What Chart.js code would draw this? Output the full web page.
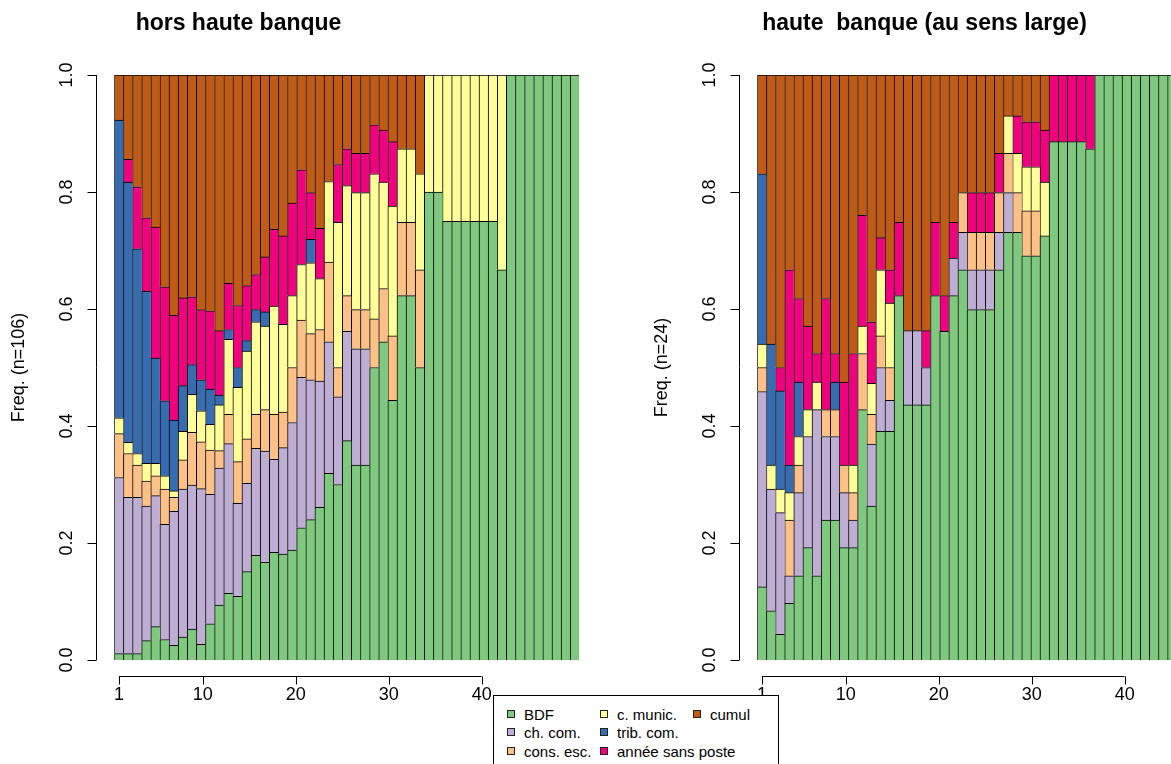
<!DOCTYPE html>
<html>
<head>
<meta charset="utf-8">
<script src="https://cdn.jsdelivr.net/npm/chart.js@4.4.1/dist/chart.umd.min.js"></script>
<style>
  html, body { margin: 0; padding: 0; width: 1171px; height: 764px; overflow: hidden; background: #fff; }
  body { position: relative; font-family: "Liberation Sans", Arial, sans-serif; }
  #chartLeft { position: absolute; left: 0; top: 0; }
  #chartRight { position: absolute; left: 640px; top: 0; }
  #legend { position: absolute; left: 493px; top: 695px; width: 284px; height: 90px; border: 1px solid #000; background: #fff; }
  #legend .item { position: absolute; font-size: 15px; line-height: 16px; color: #000; white-space: nowrap; }
  #legend .sw { display: inline-block; width: 6px; height: 6px; border: 1px solid #222; margin-right: 9px; vertical-align: 2px; }
</style>
</head>
<body>
<canvas id="chartLeft" width="600" height="764"></canvas>
<canvas id="chartRight" width="620" height="764"></canvas>
<div id="legend"></div>
<script>
// années (axe x)
const years = ['1','2','3','4','5','6','7','8','9','10','11','12','13','14','15','16','17','18','19','20',
  '21','22','23','24','25','26','27','28','29','30','31','32','33','34','35','36','37','38','39','40',
  '41','42','43','44','45','46','47','48','49','50','51'];
const xTicks = [1, 10, 20, 30, 40];
const yTicks = [0, 0.2, 0.4, 0.6, 0.8, 1.0];

const seriesNames = ['BDF', 'ch. com.', 'cons. esc.', 'c. munic.', 'trib. com.', 'année sans poste', 'cumul'];
const colors = ['#7FC97F', '#BEAED4', '#FDC086', '#FFFF99', '#386CB0', '#F0027F', '#BF5B17'];

// hors haute banque (n=106)
const bdfL = [.011,.011,.011,.033,.057,.035,.025,.039,.053,.027,.062,.094,.114,.109,.151,.179,.167,.184,.181,.188,
  .226,.240,.261,.319,.300,.375,.333,.333,.500,.544,.444,.623,.623,.500,.800,.800,.750,.750,.750,.750,
  .750,.750,.667,1,1,1,1,1,1,1,1];
const chComL = [.301,.267,.267,.230,.224,.197,.229,.253,.246,.266,.221,.234,.256,.159,.151,.183,.190,.159,.182,.218,
  .257,.239,.216,.225,.150,.187,.199,.199,0,0,0,0,0,0,0,0,0,0,0,0,
  0,0,0,0,0,0,0,0,0,0,0];
const consEscL = [.075,.075,.055,.043,.034,.060,.024,.050,.090,.080,.076,.030,.050,.071,.076,.058,.071,.077,.061,.094,
  .098,.079,.088,.136,.050,.061,.067,.067,.083,.091,.110,.125,.125,.167,0,0,0,0,0,0,
  0,0,0,0,0,0,0,0,0,0,0];
const cMunicL = [.027,.019,.020,.030,.021,.023,.011,.049,.065,.053,.044,.078,.128,.127,.150,.158,.143,.185,.150,.123,
  .095,.121,.087,.138,.248,.188,.200,.200,.248,.182,.222,.126,.126,.164,.200,.200,.250,.250,.250,.250,
  .250,.250,.333,0,0,0,0,0,0,0,0];
const tribComL = [.509,.445,.350,.294,.180,.128,.121,.078,.051,.053,.060,.017,.017,.034,.018,.021,.024,0,0,0,
  0,.040,0,0,0,0,0,0,0,0,0,0,0,0,0,0,0,0,0,0,
  0,0,0,0,0,0,0,0,0,0,0];
const sansPosteL = [0,.039,.106,.126,.224,.195,.179,.150,.116,.120,.134,.110,.079,.106,.094,.060,.094,.131,.151,.158,
  .162,.080,.086,0,.099,.063,.067,.067,.084,.089,.110,0,0,0,0,0,0,0,0,0,
  0,0,0,0,0,0,0,0,0,0,0];
const cumulL = [.077,.144,.191,.244,.260,.362,.411,.381,.379,.401,.403,.437,.356,.394,.360,.341,.311,.264,.275,.219,
  .162,.201,.262,.182,.153,.126,.134,.134,.085,.094,.114,.126,.126,.169,0,0,0,0,0,0,
  0,0,0,0,0,0,0,0,0,0,0];

// haute banque au sens large (n=24)
const bdfR = [.125,.084,.044,.097,.144,.192,.144,.239,.239,.192,.192,.428,.263,.391,.391,.623,.436,.436,.436,.623,
  .562,.623,.667,.599,.599,.599,.667,.731,.731,.691,.691,.725,.886,.886,.886,.886,.874,1,1,1,
  1,1,1,1,1,1,1,1,1,1,1];
const chComR = [.334,.208,.208,.047,.142,.190,.284,.143,.143,.094,.047,0,.106,.109,.053,0,.127,.127,.064,0,
  0,.064,.064,.068,.068,.068,.064,.068,0,0,0,0,0,0,0,0,0,0,0,0,
  0,0,0,0,0,0,0,0,0,0,0];
const consEscR = [.041,0,0,.095,.047,0,0,.046,.046,.047,.047,.096,.051,.054,.056,0,0,0,0,0,
  0,0,.068,.064,.064,.064,.068,.067,.068,.077,.077,0,0,0,0,0,0,0,0,0,
  0,0,0,0,0,0,0,0,0,0,0];
const cMunicR = [.040,.041,.040,.047,.049,.046,.047,0,0,0,.047,.047,.053,.113,.110,0,0,0,0,0,
  0,0,0,0,0,0,0,.064,.067,.075,.075,.092,0,0,0,0,0,0,0,0,
  0,0,0,0,0,0,0,0,0,0,0];
const tribComR = [.291,.207,.168,.047,.093,0,0,0,.047,0,0,0,0,0,0,0,0,0,0,0,
  0,0,0,0,0,0,0,0,0,0,0,0,0,0,0,0,0,0,0,0,
  0,0,0,0,0,0,0,0,0,0,0];
const sansPosteR = [0,0,.040,.334,.143,.143,.049,.190,.049,.142,.191,.189,.105,.055,.057,.125,0,0,.063,.125,
  .061,.061,0,.068,.068,.068,.067,0,.064,.077,.077,.089,.114,.114,.114,.114,.126,0,0,0,
  0,0,0,0,0,0,0,0,0,0,0];
const cumulR = [.169,.460,.500,.333,.382,.429,.476,.382,.476,.525,.476,.240,.422,.278,.333,.252,.437,.437,.437,.252,
  .377,.252,.201,.201,.201,.201,.134,.070,.070,.080,.080,.094,0,0,0,0,0,0,0,0,
  0,0,0,0,0,0,0,0,0,0,0];

const FONT = '"Liberation Sans", Arial, sans-serif';

// axes a la R, dessines a partir des echelles de Chart.js
const rAxes = {
  id: 'rAxes',
  afterDraw(chart, args, o) {
    const { ctx, chartArea: a, scales: { x, y } } = chart;
    const ax = Math.round(a.left - 18.6) + 0.5;
    const ay = Math.round(a.bottom + 16) + 0.5;
    ctx.save();
    ctx.strokeStyle = '#000';
    ctx.fillStyle = '#000';
    ctx.lineWidth = 1;

    // axe y
    ctx.beginPath();
    ctx.moveTo(ax, y.getPixelForValue(yTicks[0]));
    ctx.lineTo(ax, y.getPixelForValue(yTicks[yTicks.length - 1]));
    yTicks.forEach(v => {
      const py = Math.round(y.getPixelForValue(v)) + 0.5;
      ctx.moveTo(ax, py);
      ctx.lineTo(ax - 9, py);
    });
    ctx.stroke();
    ctx.font = '18px ' + FONT;
    ctx.textAlign = 'center';
    ctx.textBaseline = 'middle';
    yTicks.forEach(v => {
      ctx.save();
      ctx.translate(ax - 29, y.getPixelForValue(v));
      ctx.rotate(-Math.PI / 2);
      ctx.fillText(v.toFixed(1), 0, 0);
      ctx.restore();
    });
    ctx.save();
    ctx.translate(ax - 77.5, (a.top + a.bottom) / 2);
    ctx.rotate(-Math.PI / 2);
    ctx.fillText(o.yTitle, 0, 0);
    ctx.restore();

    // axe x (graduations placees sur une grille de 50 annees)
    const xs = xTicks.map(v => x.getPixelForDecimal((v - 0.5) / o.xUnits));
    ctx.beginPath();
    ctx.moveTo(xs[0], ay);
    ctx.lineTo(xs[xs.length - 1], ay);
    xs.forEach(px => {
      ctx.moveTo(Math.round(px) + 0.5, ay);
      ctx.lineTo(Math.round(px) + 0.5, ay + 8);
    });
    ctx.stroke();
    ctx.textBaseline = 'top';
    xTicks.forEach((v, i) => ctx.fillText(String(v), xs[i], ay + 10));

    // titre
    ctx.font = 'bold 23px ' + FONT;
    ctx.textBaseline = 'middle';
    ctx.fillText(o.title, o.titleX, 24);
    ctx.restore();
  }
};

function makeChart(id, series, opts) {
  return new Chart(document.getElementById(id), {
    type: 'bar',
    data: {
      labels: years,
      datasets: series.map((d, i) => ({
        label: seriesNames[i],
        data: d,
        backgroundColor: colors[i],
        borderColor: '#000',
        borderWidth: { top: 1, left: 1, right: 0, bottom: 0 },
        borderSkipped: false,
        barPercentage: 1,
        categoryPercentage: 1
      }))
    },
    options: {
      responsive: false,
      animation: false,
      layout: { padding: opts.padding },
      plugins: {
        legend: { display: false },
        tooltip: { enabled: false },
        rAxes: opts
      },
      scales: {
        x: { stacked: true, display: false },
        y: { stacked: true, display: false, min: 0, max: 1 }
      }
    },
    plugins: [rAxes]
  });
}

makeChart('chartLeft', [bdfL, chComL, consEscL, cMunicL, tribComL, sansPosteL, cumulL], {
  padding: { left: 114.3, right: 20.7, top: 75, bottom: 104 },
  yTitle: 'Freq. (n=106)',
  title: 'hors haute banque',
  titleX: 238.5,
  xUnits: 50
});

makeChart('chartRight', [bdfR, chComR, consEscR, cMunicR, tribComR, sansPosteR, cumulR], {
  padding: { left: 117.3, right: 37.7, top: 75, bottom: 104 },
  yTitle: 'Freq. (n=24)',
  title: 'haute  banque (au sens large)',
  titleX: 284.5,
  xUnits: 50
});

// legende commune
const legend = document.getElementById('legend');
const legendPos = [[13, 11], [13, 29.3], [13, 47.7], [106, 11], [106, 29.3], [106, 47.7], [199, 11]];
seriesNames.forEach((name, i) => {
  const el = document.createElement('div');
  el.className = 'item';
  el.style.left = legendPos[i][0] + 'px';
  el.style.top = legendPos[i][1] + 'px';
  el.innerHTML = '<span class="sw" style="background:' + colors[i] + '"></span>' + name;
  legend.appendChild(el);
});
</script>
</body>
</html>
